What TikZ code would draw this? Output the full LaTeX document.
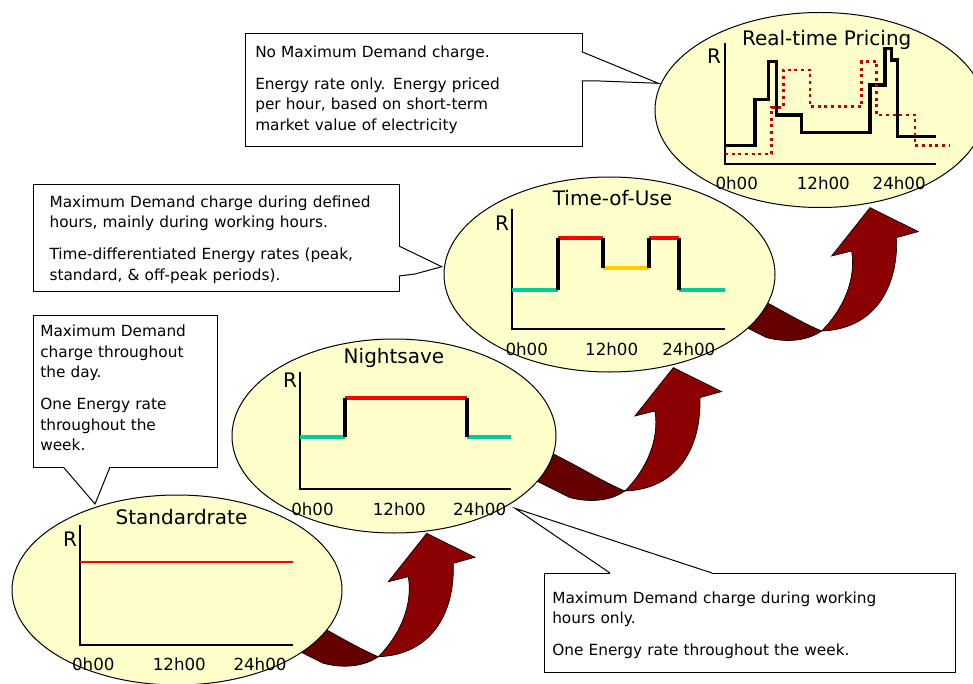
\documentclass[tikz,border=0pt]{standalone}
\usepackage{fontspec}
\setmainfont{DejaVu Sans}
\usetikzlibrary{shapes.geometric}
\definecolor{ellfill}{RGB}{255,255,204}
\definecolor{arrmain}{RGB}{139,0,0}
\definecolor{arrdark}{RGB}{100,0,0}
\definecolor{ngreen}{RGB}{0,204,153}
\definecolor{nred}{RGB}{255,0,0}
\definecolor{nyellow}{RGB}{255,204,0}
\definecolor{dotred}{RGB}{192,0,0}
\begin{document}
\begin{tikzpicture}[x=0.75pt,y=-0.75pt,
  ell/.style={ellipse, draw=black, line width=0.75pt, fill=ellfill, inner sep=0pt},
  ttl/.style={font=\fontsize{15pt}{18pt}\selectfont, anchor=base, inner sep=0pt},
  tick/.style={font=\fontsize{12.5pt}{15pt}\selectfont, anchor=base, inner sep=0pt},
  axisline/.style={line width=1.3pt, draw=black},
  stepline/.style={line width=2.4pt},
  cbox/.style={draw=black, fill=white, line width=0.75pt, inner sep=0pt, anchor=north west},
  ctext/.style={font=\fontsize{11.5pt}{15.4pt}\selectfont, anchor=base west, inner sep=0pt, align=left, text width=320pt},
  pointer/.style={draw=black, line width=0.75pt, line join=miter},
  ribbon/.pic={
    \filldraw[fill=arrdark, draw=black, line width=0.5pt]
      (300,616) -- (330,631.7) .. controls (350,643) and (365,651) .. (378.3,656.7)
      .. controls (365,666) and (345,669) .. (323.3,663.3) -- (283.3,643.3) -- cycle;
    \filldraw[fill=arrmain, draw=black, line width=0.5pt]
      (378.3,656.7) .. controls (430,655) and (455,615) .. (453.3,563.3)
      -- (475,557.3) -- (426.7,533.3) -- (388.3,581.7) -- (408.3,576.7)
      .. controls (413,605) and (400,635) .. (378.3,656.7) -- cycle;
  }
]
\useasboundingbox (0,0) rectangle (973,684);

% curved arrows (behind the ellipses)
\pic at (0,0) {ribbon};
\pic at (246.6,-165.7) {ribbon};
\pic at (443.3,-325.7) {ribbon};

% ---------- Real-time Pricing ----------
\node[ell, minimum width=247.5pt, minimum height=146.25pt] (rtp) at (820,110) {};
\draw[axisline] (725,43) -- (725,164) -- (936,164);
\draw[stepline, black] (725,145.7) -- (755,145.7) -- (755,99.3) -- (768.3,99.3) -- (768.3,61.7)
  -- (776.7,61.7) -- (776.7,115) -- (801.7,115) -- (801.7,132.3) -- (870,132.3) -- (870,85)
  -- (885,85) -- (885,48.3) -- (891.7,48.3) -- (891.7,60) -- (897.3,60) -- (897.3,136.7) -- (936,136.7);
\draw[line width=2.2pt, dotred, dash pattern=on 2.2pt off 2.8pt] (725,154) -- (771.7,154) -- (771.7,107.3)
  -- (783.3,107.3) -- (783.3,70) -- (810,70) -- (810,106.7) -- (861.7,106.7) -- (861.7,61.7)
  -- (876.7,61.7) -- (876.7,115) -- (915,115) -- (915,145.7) -- (950,145.7);
\node[ttl] (rtpR) at (714,63.3) {R};
\node[ttl] (rtpT) at (826.7,45.7) {Real-time Pricing};
\node[tick] (rtp0) at (736.7,190) {0h00};
\node[tick] (rtp12) at (823.3,190) {12h00};
\node[tick] (rtp24) at (899.2,190) {24h00};

% ---------- Time-of-Use ----------
\node[ell, minimum width=248.25pt, minimum height=146.25pt] (tou) at (609.5,274.5) {};
\draw[axisline] (512,209) -- (512,329) -- (725,329);
\draw[stepline, ngreen] (512,290) -- (558,290) (679,290) -- (725,290);
\draw[stepline, nred] (558,238) -- (603,238) (649,238) -- (679,238);
\draw[stepline, nyellow] (603,268) -- (649,268);
\draw[stepline, black] (558,290) -- (558,238) (603,238) -- (603,268) (649,268) -- (649,238) (679,238) -- (679,290);
\node[ttl] (touR) at (502,230) {R};
\node[ttl] (touT) at (612.5,205) {Time-of-Use};
\node[tick] (tou0) at (526.7,355) {0h00};
\node[tick] (tou12) at (611.7,355) {12h00};
\node[tick] (tou24) at (688.8,355) {24h00};

% ---------- Nightsave ----------
\node[ell, minimum width=243pt, minimum height=145.5pt] (ns) at (394,436) {};
\draw[axisline] (300,372) -- (300,489) -- (511,489);
\draw[stepline, ngreen] (300,437) -- (345,437) (467,437) -- (511,437);
\draw[stepline, nred] (345,398) -- (467,398);
\draw[stepline, black] (345,437) -- (345,398) (467,398) -- (467,437);
\node[ttl] (nsR) at (290,387.7) {R};
\node[ttl] (nsT) at (394,363) {Nightsave};
\node[tick] (ns0) at (312.5,515) {0h00};
\node[tick] (ns12) at (399.3,515) {12h00};
\node[tick] (ns24) at (479.7,515) {24h00};

% ---------- Standardrate ----------
\node[ell, minimum width=247.5pt, minimum height=142.5pt] (std) at (177,590) {};
\draw[axisline] (80,525) -- (80,645) -- (293,645);
\draw[line width=1.2pt, nred] (80,561.7) -- (293,561.7);
\node[ttl] (stdR) at (70,546) {R};
\node[ttl] (stdT) at (181.5,524) {Standardrate};
\node[tick] (std0) at (93.3,670.7) {0h00};
\node[tick] (std12) at (179.3,670.7) {12h00};
\node[tick] (std24) at (260,670.7) {24h00};

% ---------- Callout A (Standardrate) ----------
\node[cbox, minimum width=138pt, minimum height=114pt] (boxA) at (33,315) {};
\coordinate (tipA) at (95,504);
\fill[white] (63.3,464) -- (63.3,467.8) -- (tipA) -- (110,467.8) -- (110,464) -- cycle;
\draw[pointer] (63.3,467) -- (tipA) -- (110,467);
\node[ctext] (txtA) at (40,336.7) {Maximum Demand\\charge throughout\\the day.\\[8.6pt]One Energy rate\\throughout the\\week.};

% ---------- Callout B (Nightsave) ----------
\node[cbox, minimum width=308.25pt, minimum height=74.25pt] (boxB) at (544,573) {};
\coordinate (tipB) at (515,508.3);
\fill[white] (610,576) -- (610,572.2) -- (tipB) -- (712,572.2) -- (712,576) -- cycle;
\draw[pointer] (610,573) -- (tipB) -- (712,573);
\node[ctext] (txtB) at (552,603.3) {Maximum Demand charge during working\\hours only.\\[8.6pt]One Energy rate throughout the week.};

% ---------- Callout C (Time-of-Use) ----------
\node[cbox, minimum width=274.5pt, minimum height=80.25pt] (boxC) at (33,184) {};
\coordinate (tipC) at (441.7,266.7);
\fill[white] (396,246) -- (399.8,246) -- (tipC) -- (415,274) -- (399.8,276) -- (396,276) -- cycle;
\draw[pointer] (399,246) -- (tipC) -- (415,274) -- (399,276);
\node[ctext] (txtC) at (49.3,207.3) {Maximum Demand charge during defined\\hours, mainly during working hours.\\[8.6pt]Time-differentiated Energy rates (peak,\\standard, \& off-peak periods).};

% ---------- Callout D (Real-time Pricing) ----------
\node[cbox, minimum width=252.75pt, minimum height=84.75pt] (boxD) at (245,33) {};
\coordinate (tipD) at (658.3,83.3);
\fill[white] (579,51.7) -- (582.5,51.7) -- (tipD) -- (600,81) -- (582.5,81) -- (579,81) -- cycle;
\draw[pointer] (581.7,51.7) -- (tipD) -- (600,81) -- (581.7,81);
\node[ctext] (txtD) at (255,57.3) {No Maximum Demand charge.\\[8.6pt]Energy rate only. Energy priced\\per hour, based on short-term\\market value of electricity};

\end{tikzpicture}
\end{document}
